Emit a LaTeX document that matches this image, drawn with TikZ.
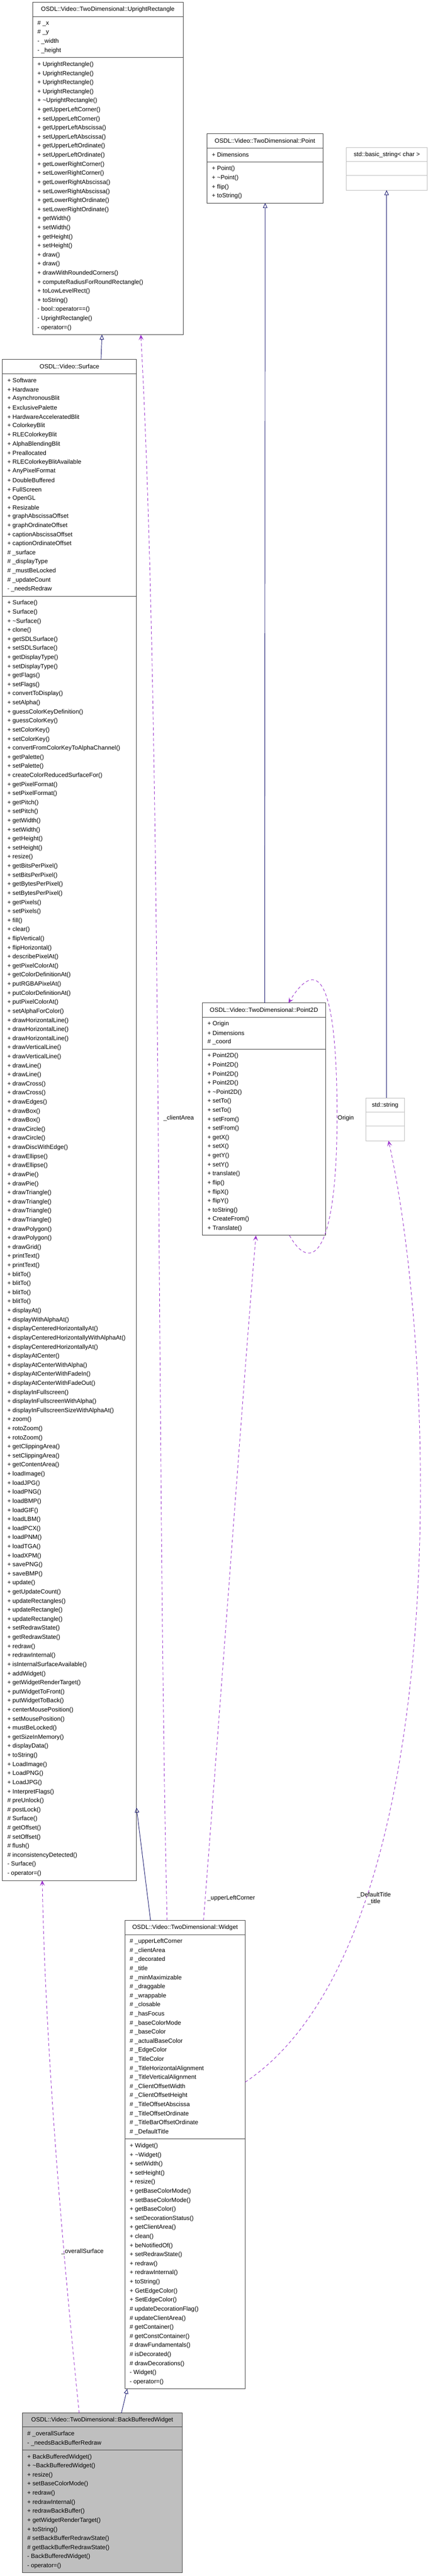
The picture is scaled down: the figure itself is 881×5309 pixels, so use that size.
\documentclass[tikz,border=0pt]{standalone}
\usepackage{fontspec}
\setmainfont{Liberation Sans}
\usepackage{xcolor}
\usetikzlibrary{calc,arrows.meta}

\definecolor{inhcol}{HTML}{191970}
\definecolor{usecol}{HTML}{9A32CD}
\definecolor{boxcol}{HTML}{404040}

\tikzset{
  classframe/.style={draw=boxcol,line width=1pt,inner sep=0pt,outer sep=0pt},
  classtitle/.style={inner sep=0pt,font=\fontsize{12.5}{14}\selectfont},
  member/.style={anchor=west,inner sep=0pt,font=\fontsize{12.5}{14}\selectfont},
  inherit/.style={draw=inhcol,line width=1pt,-{Triangle[open,length=10pt,width=9pt]}},
  uses/.style={draw=usecol,line width=1pt,dash pattern=on 6pt off 5pt,-{Stealth[length=11pt,width=10pt,inset=5pt]}},
  rolelabel/.style={inner sep=0pt,font=\fontsize{12.5}{14}\selectfont,align=center}
}

\newcommand{\pub}{+ }
\newcommand{\pro}{\# }
\newcommand{\pri}{- }
\newcommand{\tld}{\textasciitilde}

% #1 name, #2 left, #3 top, #4 right, #5 extra style, #6 title, #7 attributes, #8 methods
\newcommand{\classbox}[8]{%
  \gdef\nA{0}\foreach \t [count=\i] in {#7}{\xdef\nA{\i}}%
  \gdef\nM{0}\foreach \t [count=\i] in {#8}{\xdef\nM{\i}}%
  \pgfmathsetmacro\hA{\nA*18.7+10}%
  \pgfmathsetmacro\hM{\nM*18.7+10}%
  \pgfmathsetmacro\hAll{29+\hA+\hM}%
  \pgfmathsetmacro\wAll{#4-#2}%
  \node[classframe,#5,minimum width=\wAll pt,minimum height=\hAll pt,anchor=north west] (#1) at (#2,#3) {};
  \node[classtitle] (#1-title) at ($(#1.north)+(0,14.5)$) {#6};
  \draw[boxcol,line width=1pt] ($(#1.north west)+(0,29)$) -- ++(\wAll,0);
  \draw[boxcol,line width=1pt] ($(#1.north west)+(0,29+\hA)$) -- ++(\wAll,0);
  \foreach \t [count=\i] in {#7}
    \node[member] at ($(#1.north west)+(10,{29+5+(\i-0.5)*18.7})$) {\t};
  \foreach \t [count=\i] in {#8}
    \node[member] at ($(#1.north west)+(10,{29+\hA+5+(\i-0.5)*18.7})$) {\t};
}

% #1 name, #2 left, #3 top, #4 right, #5 title
\newcommand{\emptyclass}[5]{%
  \pgfmathsetmacro\wAll{#4-#2}%
  \node[classframe,draw=black!25,minimum width=\wAll pt,minimum height=88pt,anchor=north west] (#1) at (#2,#3) {};
  \node[classtitle] (#1-title) at ($(#1.north)+(0,14.5)$) {#5};
  \draw[black!25,line width=1pt] ($(#1.north west)+(0,29)$) -- ++(\wAll,0);
  \draw[black!25,line width=1pt] ($(#1.north west)+(0,58)$) -- ++(\wAll,0);
}

\begin{document}
\begin{tikzpicture}[x=1pt,y=-1pt]
  \useasboundingbox (0,0) rectangle (881,5309);

  %% classes
  \classbox{rect}{67}{5}{377}{}{OSDL::Video::TwoDimensional::UprightRectangle}
    {\pro\_x,\pro\_y,\pri\_width,\pri\_height}
    {\pub UprightRectangle(),\pub UprightRectangle(),\pub UprightRectangle(),\pub UprightRectangle(),
     \pub\tld UprightRectangle(),\pub getUpperLeftCorner(),\pub setUpperLeftCorner(),
     \pub getUpperLeftAbscissa(),\pub setUpperLeftAbscissa(),\pub getUpperLeftOrdinate(),
     \pub setUpperLeftOrdinate(),\pub getLowerRightCorner(),\pub setLowerRightCorner(),
     \pub getLowerRightAbscissa(),\pub setLowerRightAbscissa(),\pub getLowerRightOrdinate(),
     \pub setLowerRightOrdinate(),\pub getWidth(),\pub setWidth(),\pub getHeight(),\pub setHeight(),
     \pub draw(),\pub draw(),\pub drawWithRoundedCorners(),\pub computeRadiusForRoundRectangle(),
     \pub toLowLevelRect(),\pub toString(),\pri bool::operator==(),\pri UprightRectangle(),\pri operator=()}

  \classbox{point}{426}{276}{665}{}{OSDL::Video::TwoDimensional::Point}
    {\pub Dimensions}
    {\pub Point(),\pub\tld Point(),\pub flip(),\pub toString()}

  \emptyclass{basicstr}{713}{304}{880}{std::basic\_string< char >}

  \classbox{surface}{5}{741}{281}{}{OSDL::Video::Surface}
    {\pub Software,\pub Hardware,\pub AsynchronousBlit,\pub ExclusivePalette,
     \pub HardwareAcceleratedBlit,\pub ColorkeyBlit,\pub RLEColorkeyBlit,\pub AlphaBlendingBlit,
     \pub Preallocated,\pub RLEColorkeyBlitAvailable,\pub AnyPixelFormat,\pub DoubleBuffered,
     \pub FullScreen,\pub OpenGL,\pub Resizable,\pub graphAbscissaOffset,\pub graphOrdinateOffset,
     \pub captionAbscissaOffset,\pub captionOrdinateOffset,\pro\_surface,\pro\_displayType,
     \pro\_mustBeLocked,\pro\_updateCount,\pri\_needsRedraw}
    {\pub Surface(),\pub Surface(),\pub\tld Surface(),\pub clone(),\pub getSDLSurface(),
     \pub setSDLSurface(),\pub getDisplayType(),\pub setDisplayType(),\pub getFlags(),\pub setFlags(),
     \pub convertToDisplay(),\pub setAlpha(),\pub guessColorKeyDefinition(),\pub guessColorKey(),
     \pub setColorKey(),\pub setColorKey(),\pub convertFromColorKeyToAlphaChannel(),\pub getPalette(),
     \pub setPalette(),\pub createColorReducedSurfaceFor(),\pub getPixelFormat(),\pub setPixelFormat(),
     \pub getPitch(),\pub setPitch(),\pub getWidth(),\pub setWidth(),\pub getHeight(),\pub setHeight(),
     \pub resize(),\pub getBitsPerPixel(),\pub setBitsPerPixel(),\pub getBytesPerPixel(),
     \pub setBytesPerPixel(),\pub getPixels(),\pub setPixels(),\pub fill(),\pub clear(),
     \pub flipVertical(),\pub flipHorizontal(),\pub describePixelAt(),\pub getPixelColorAt(),
     \pub getColorDefinitionAt(),\pub putRGBAPixelAt(),\pub putColorDefinitionAt(),
     \pub putPixelColorAt(),\pub setAlphaForColor(),\pub drawHorizontalLine(),\pub drawHorizontalLine(),
     \pub drawHorizontalLine(),\pub drawVerticalLine(),\pub drawVerticalLine(),\pub drawLine(),
     \pub drawLine(),\pub drawCross(),\pub drawCross(),\pub drawEdges(),\pub drawBox(),\pub drawBox(),
     \pub drawCircle(),\pub drawCircle(),\pub drawDiscWithEdge(),\pub drawEllipse(),\pub drawEllipse(),
     \pub drawPie(),\pub drawPie(),\pub drawTriangle(),\pub drawTriangle(),\pub drawTriangle(),
     \pub drawTriangle(),\pub drawPolygon(),\pub drawPolygon(),\pub drawGrid(),\pub printText(),
     \pub printText(),\pub blitTo(),\pub blitTo(),\pub blitTo(),\pub blitTo(),\pub displayAt(),
     \pub displayWithAlphaAt(),\pub displayCenteredHorizontallyAt(),
     \pub displayCenteredHorizontallyWithAlphaAt(),\pub displayCenteredHorizontallyAt(),
     \pub displayAtCenter(),\pub displayAtCenterWithAlpha(),\pub displayAtCenterWithFadeIn(),
     \pub displayAtCenterWithFadeOut(),\pub displayInFullscreen(),\pub displayInFullscreenWithAlpha(),
     \pub displayInFullscreenSizeWithAlphaAt(),\pub zoom(),\pub rotoZoom(),\pub rotoZoom(),
     \pub getClippingArea(),\pub setClippingArea(),\pub getContentArea(),\pub loadImage(),
     \pub loadJPG(),\pub loadPNG(),\pub loadBMP(),\pub loadGIF(),\pub loadLBM(),\pub loadPCX(),
     \pub loadPNM(),\pub loadTGA(),\pub loadXPM(),\pub savePNG(),\pub saveBMP(),\pub update(),
     \pub getUpdateCount(),\pub updateRectangles(),\pub updateRectangle(),\pub updateRectangle(),
     \pub setRedrawState(),\pub getRedrawState(),\pub redraw(),\pub redrawInternal(),
     \pub isInternalSurfaceAvailable(),\pub addWidget(),\pub getWidgetRenderTarget(),
     \pub putWidgetToFront(),\pub putWidgetToBack(),\pub centerMousePosition(),
     \pub setMousePosition(),\pub mustBeLocked(),\pub getSizeInMemory(),\pub displayData(),
     \pub toString(),\pub LoadImage(),\pub LoadPNG(),\pub LoadJPG(),\pub InterpretFlags(),
     \pro preUnlock(),\pro postLock(),\pro Surface(),\pro getOffset(),\pro setOffset(),\pro flush(),
     \pro inconsistencyDetected(),\pri Surface(),\pri operator=()}

  \classbox{pointTwoD}{417}{2067}{670}{}{OSDL::Video::TwoDimensional::Point2D}
    {\pub Origin,\pub Dimensions,\pro\_coord}
    {\pub Point2D(),\pub Point2D(),\pub Point2D(),\pub Point2D(),\pub\tld Point2D(),\pub setTo(),
     \pub setTo(),\pub setFrom(),\pub setFrom(),\pub getX(),\pub setX(),\pub getY(),\pub setY(),
     \pub translate(),\pub flip(),\pub flipX(),\pub flipY(),\pub toString(),\pub CreateFrom(),
     \pub Translate()}

  \emptyclass{stdstr}{753}{2263}{833}{std::string}

  \classbox{widget}{257}{3958}{505}{}{OSDL::Video::TwoDimensional::Widget}
    {\pro\_upperLeftCorner,\pro\_clientArea,\pro\_decorated,\pro\_title,\pro\_minMaximizable,
     \pro\_draggable,\pro\_wrappable,\pro\_closable,\pro\_hasFocus,\pro\_baseColorMode,
     \pro\_baseColor,\pro\_actualBaseColor,\pro\_EdgeColor,\pro\_TitleColor,
     \pro\_TitleHorizontalAlignment,\pro\_TitleVerticalAlignment,\pro\_ClientOffsetWidth,
     \pro\_ClientOffsetHeight,\pro\_TitleOffsetAbscissa,\pro\_TitleOffsetOrdinate,
     \pro\_TitleBarOffsetOrdinate,\pro\_DefaultTitle}
    {\pub Widget(),\pub\tld Widget(),\pub setWidth(),\pub setHeight(),\pub resize(),
     \pub getBaseColorMode(),\pub setBaseColorMode(),\pub getBaseColor(),\pub setDecorationStatus(),
     \pub getClientArea(),\pub clean(),\pub beNotifiedOf(),\pub setRedrawState(),\pub redraw(),
     \pub redrawInternal(),\pub toString(),\pub GetEdgeColor(),\pub SetEdgeColor(),
     \pro updateDecorationFlag(),\pro updateClientArea(),\pro getContainer(),
     \pro getConstContainer(),\pro drawFundamentals(),\pro isDecorated(),\pro drawDecorations(),
     \pri Widget(),\pri operator=()}

  \classbox{bbw}{46}{4973}{375}{fill=black!25}{OSDL::Video::TwoDimensional::BackBufferedWidget}
    {\pro\_overallSurface,\pri\_needsBackBufferRedraw}
    {\pub BackBufferedWidget(),\pub\tld BackBufferedWidget(),\pub resize(),\pub setBaseColorMode(),
     \pub redraw(),\pub redrawInternal(),\pub redrawBackBuffer(),\pub getWidgetRenderTarget(),
     \pub toString(),\pro setBackBufferRedrawState(),\pro getBackBufferRedrawState(),
     \pri BackBufferedWidget(),\pri operator=()}

  %% inheritance
  \draw[inherit] ($(surface.north west)+(203,0)$) -- ($(rect.south west)+(143,0)$);
  \draw[inherit] ($(pointTwoD.north west)+(128,0)$) -- ($(point.south west)+(120,0)$);
  \draw[inherit] ($(stdstr.north west)+(43,0)$) -- ($(basicstr.south west)+(83,0)$);
  \draw[inherit] ($(widget.north west)+(53,0)$) -- ($(surface.south east)+(0,-150)$);
  \draw[inherit] ($(bbw.north west)+(204,0)$) -- ($(widget.south west)+(5,0)$);

  %% usage
  \draw[uses] ($(widget.north west)+(87,0)$) .. controls (322,3000) and (334,1500) .. ($(rect.south west)+(223,0)$);
  \node[rolelabel] (clientLbl) at (368,2305) {\_clientArea};
  \draw[uses] ($(widget.north west)+(162,0)$) .. controls (470,3300) and (505,2800) .. ($(pointTwoD.south west)+(110,0)$);
  \node[rolelabel] (cornerLbl) at (476,3912) {\_upperLeftCorner};
  \draw[uses] ($(pointTwoD.south west)+(179,0)$) .. controls (640,2625) and (694,2590) .. (694,2300)
    .. controls (694,2040) and (660,1960) .. ($(pointTwoD.north west)+(177,0)$);
  \node[rolelabel] (originLbl) at (712,2305) {Origin};
  \draw[uses] ($(widget.north west)+(248,333)$) .. controls (940,4000) and (900,2800) .. ($(stdstr.south west)+(47,0)$);
  \node[rolelabel] (titleLbl) at (770,3913) {\_DefaultTitle\\\_title};
  \draw[uses] ($(bbw.north west)+(117,0)$) .. controls (125,4600) and (93,4200) .. ($(surface.south west)+(82,0)$);
  \node[rolelabel] (overallLbl) at (170,4640) {\_overallSurface};
\end{tikzpicture}
\end{document}
